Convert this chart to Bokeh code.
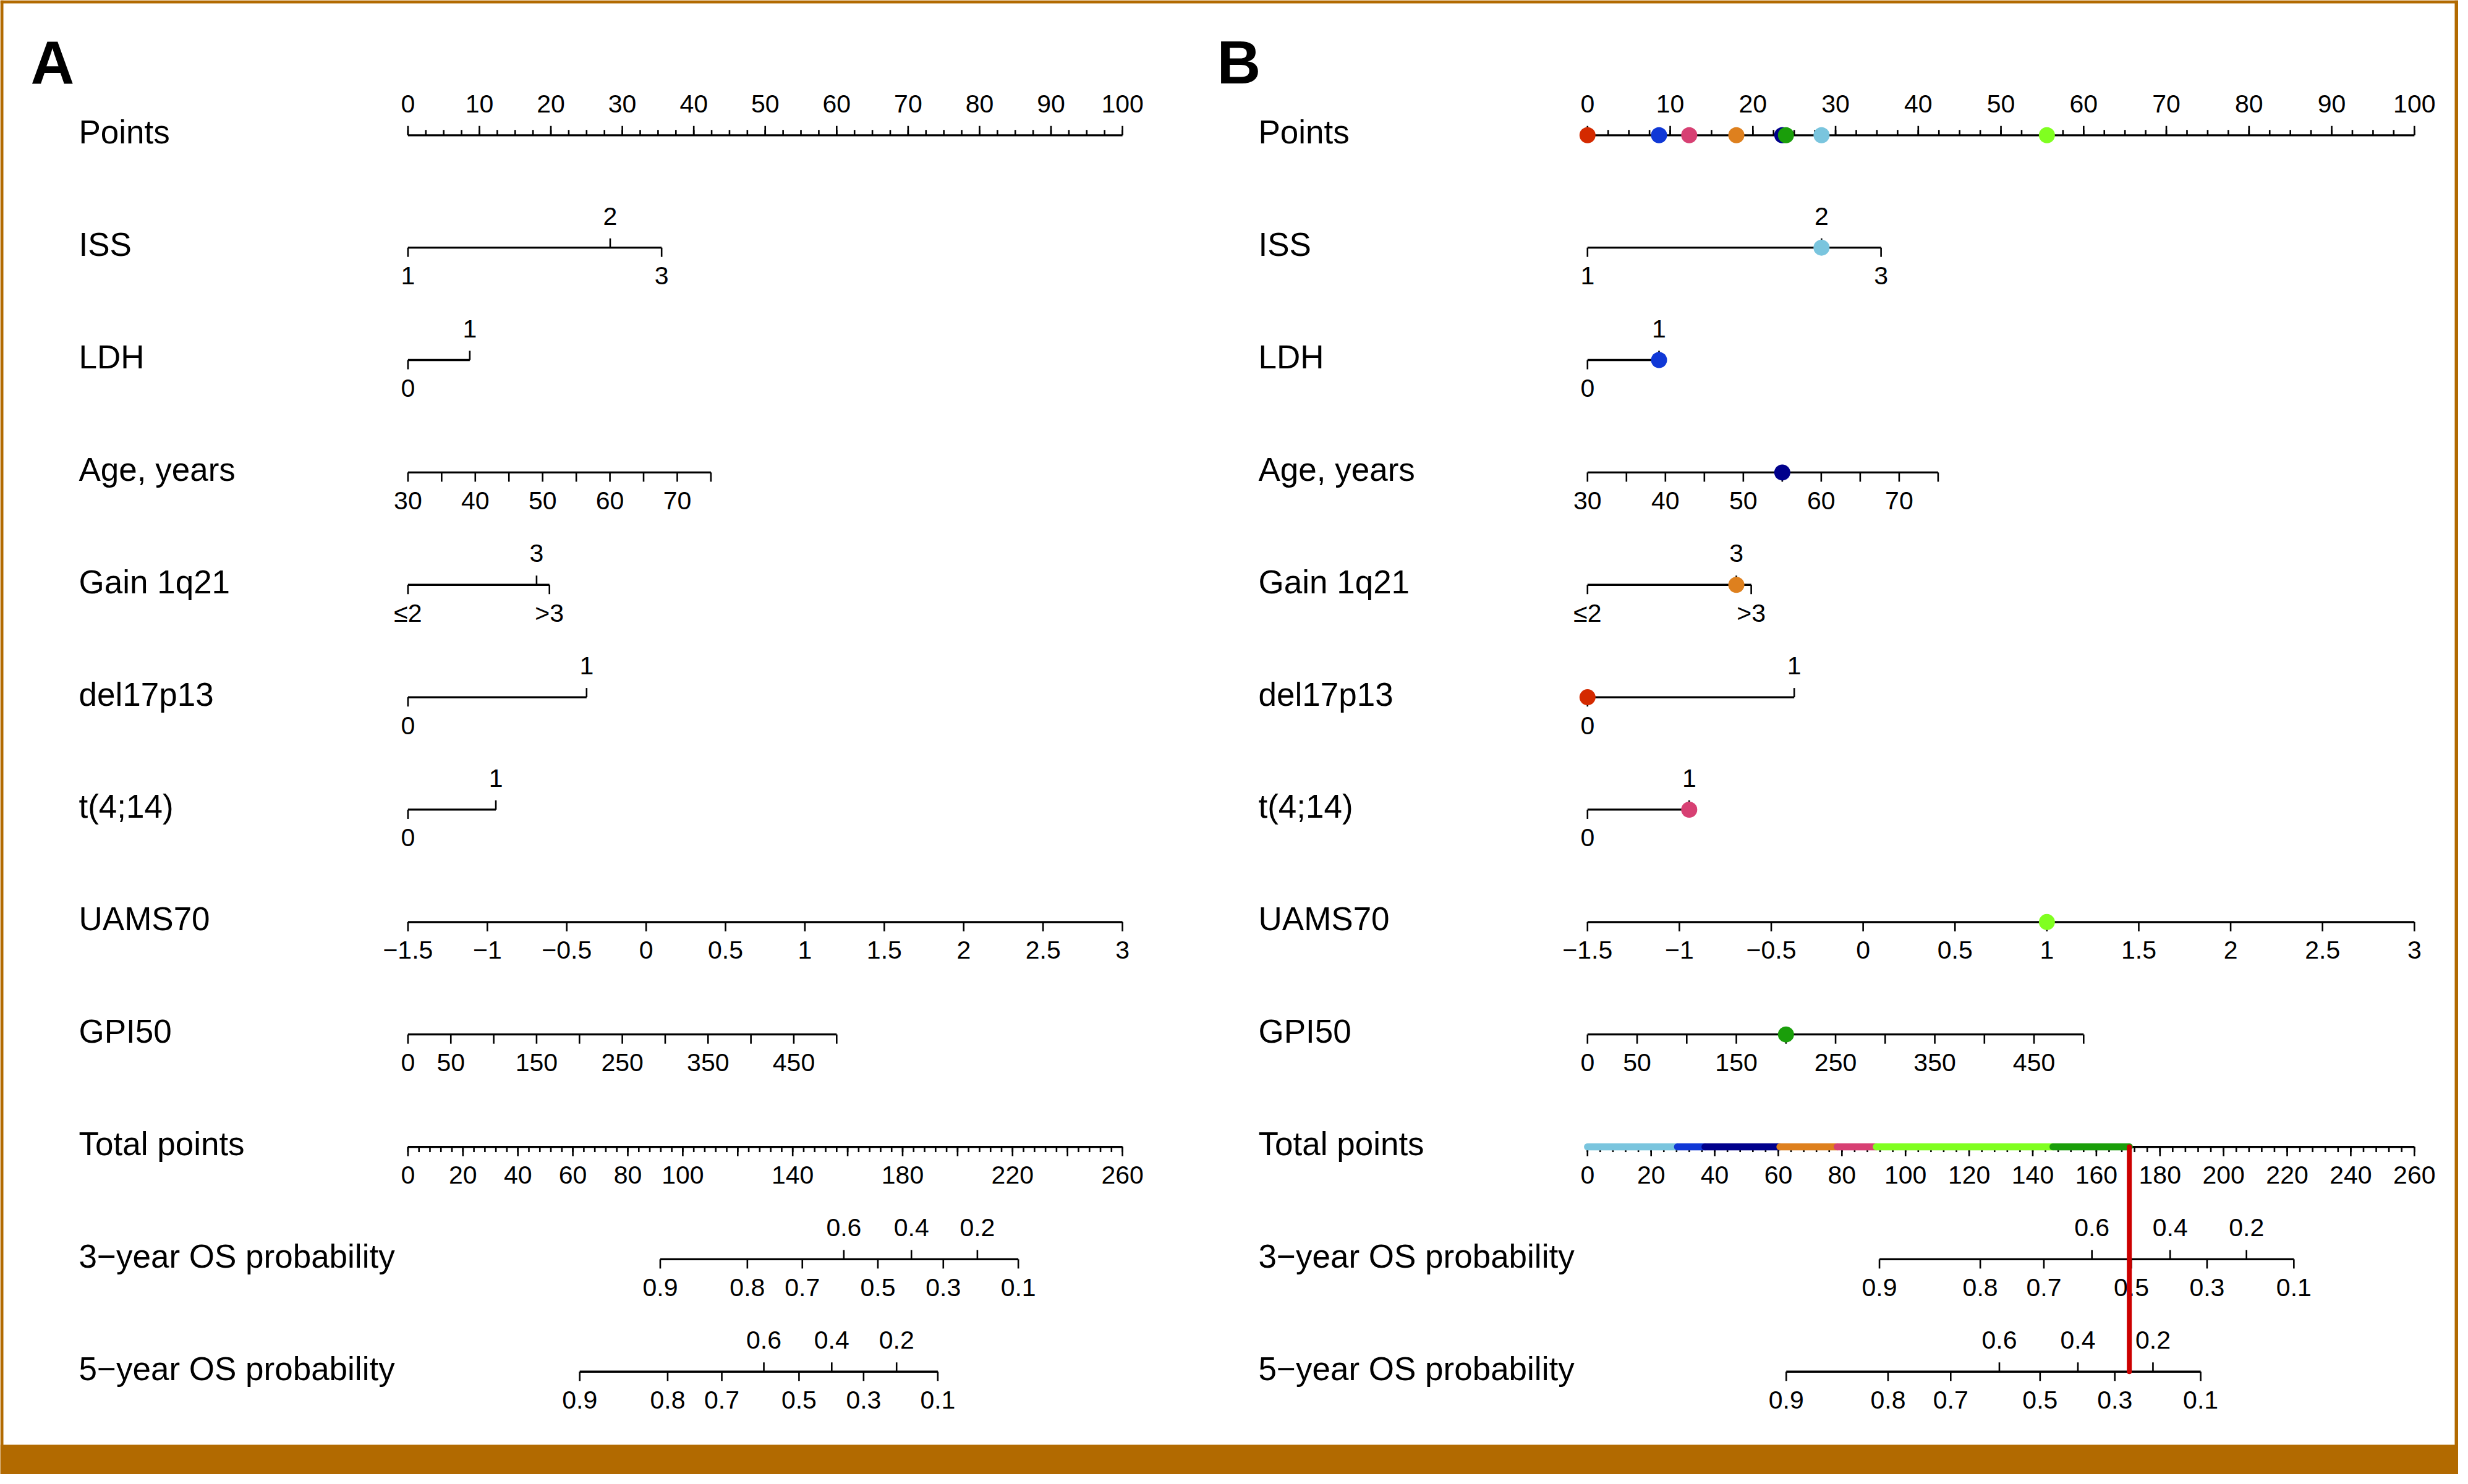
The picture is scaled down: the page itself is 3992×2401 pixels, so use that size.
import numpy as np
from bokeh.plotting import figure
from bokeh.models import Range1d
from bokeh.core.properties import value
from bokeh.embed import file_html
from bokeh.resources import INLINE

# ---------------- data ----------------
row_names = ["Points", "ISS", "LDH", "Age, years", "Gain 1q21", "del17p13", "t(4;14)",
             "UAMS70", "GPI50", "Total points", "3\u2212year OS probability", "5\u2212year OS probability"]

points_major = list(range(0, 101, 10))
points_minor = [i * 2.5 for i in range(41)]

iss_levels = ["1", "2", "3"]
iss_points = [0.0, 28.3, 35.5]
iss_side = ["down", "up", "down"]

ldh_levels = ["0", "1"]
ldh_points = [0.0, 8.65]
ldh_side = ["down", "up"]

age_ticks = list(range(30, 80, 5))
age_labels = [30, 40, 50, 60, 70]
age_points_at_75 = 42.4          # points for age 75 (age 30 = 0)

gain_levels = ["\u22642", "3", ">3"]
gain_points = [0.0, 18.0, 19.8]
gain_side = ["down", "up", "down"]

del17_levels = ["0", "1"]
del17_points = [0.0, 25.0]
del17_side = ["down", "up"]

t414_levels = ["0", "1"]
t414_points = [0.0, 12.3]
t414_side = ["down", "up"]

uams_ticks = [-1.5, -1, -0.5, 0, 0.5, 1, 1.5, 2, 2.5, 3]
uams_labels = ["\u22121.5", "\u22121", "\u22120.5", "0", "0.5", "1", "1.5", "2", "2.5", "3"]
uams_points_range = [0.0, 100.0]   # points for -1.5 and 3

gpi_ticks = list(range(0, 501, 50))
gpi_labels = [0, 50, 150, 250, 350, 450]
gpi_points_at_500 = 60.0

total_major = list(range(0, 261, 20))
total_minor = list(range(0, 261, 4))
total_labels_A = [0, 20, 40, 60, 80, 100, 140, 180, 220, 260]
total_labels_B = list(range(0, 261, 20))

os_probs = [0.9, 0.8, 0.7, 0.6, 0.5, 0.4, 0.3, 0.2, 0.1]
os_side = ["down", "down", "down", "up", "down", "up", "down", "up", "down"]
os3_total = [91.8, 123.5, 143.5, 158.6, 171.0, 183.2, 194.8, 207.2, 222.1]
os5_total = [62.5, 94.5, 114.2, 129.5, 142.3, 154.2, 165.8, 177.8, 192.8]

# patient shown in panel B
pt_iss, pt_ldh, pt_age, pt_gain = "2", "1", 55, "3"
pt_del17, pt_t414, pt_uams, pt_gpi = "0", "1", 1.0, 200
var_colors = {"ISS": "#7AC5DE", "LDH": "#1038D6", "Age": "#00008C", "Gain": "#DE801E",
              "del17": "#D42A00", "t414": "#D74073", "UAMS": "#80FF20", "GPI": "#1A9E0A"}

# ---------------- layout ----------------
W, H = 3976, 2385
ROW0, ROWSTEP = 218.3, 181.86
FONT = value("Liberation Sans")
TICK_FS, LABEL_FS = "41px", "53px"
AXW, TW = 3.3, 2.6
MAJ, MIN = 15, 8.5
BROWN = "#B26A00"

p = figure(width=W, height=H, x_range=Range1d(0, W), y_range=Range1d(H, 0),
           x_axis_type=None, y_axis_type=None, output_backend="svg",
           toolbar_location=None, min_border=0, outline_line_color=None,
           background_fill_color="white", border_fill_color="white")

# panel scales (points units and total-points units)
panels = {"A": (659.4, 11.557), "B": (2567.3, 13.375)}
for k, (x0, s) in panels.items():
    p.extra_x_ranges[k] = Range1d(-x0 / s, (W - x0) / s)
    p.extra_x_ranges[k + "t"] = Range1d(-x0 / s * 2.6, (W - x0) / s * 2.6)


def ry(i):
    return ROW0 + ROWSTEP * i


def scale(rng, row, ticks, sides, labels, lab_pos, lab_sides, minor=None, minor_side="up", major_len=MAJ):
    y = ry(row)
    lo, hi = min(ticks + (minor or [])), max(ticks + (minor or []))
    p.segment(x0=[lo], y0=[y], x1=[hi], y1=[y], x_range_name=rng,
              line_width=AXW, line_color="black")
    if minor:
        d = -MIN if minor_side == "up" else MIN
        p.segment(x0=minor, y0=[y] * len(minor), x1=minor, y1=[y + d] * len(minor),
                  x_range_name=rng, line_width=TW, line_color="black")
    y1 = [y - major_len if s == "up" else y + major_len for s in sides]
    p.segment(x0=ticks, y0=[y] * len(ticks), x1=ticks, y1=y1, x_range_name=rng,
              line_width=TW, line_color="black")
    ly = [y - 51.0 if s == "up" else y + 45.5 for s in lab_sides]
    p.text(x=lab_pos, y=ly, text=labels, x_range_name=rng, text_font=FONT,
           text_font_size=TICK_FS, text_align="center", text_baseline="middle",
           text_color="black")


def age_pts(a):
    return (a - 30) / 45 * age_points_at_75


def uams_pts(u):
    return (u + 1.5) / 4.5 * (uams_points_range[1] - uams_points_range[0])


def gpi_pts(g):
    return g / 500 * gpi_points_at_500


def draw_panel(rng, label_x, letter, letter_x, total_labels):
    # panel letter
    p.text(x=[letter_x], y=[100], text=[letter], text_font=FONT, text_font_size="98px",
           text_font_style="bold", text_baseline="middle", text_color="black")
    # row labels
    p.text(x=[label_x] * len(row_names), y=[ry(i) - 5 for i in range(len(row_names))],
           text=row_names, text_font=FONT, text_font_size=LABEL_FS,
           text_baseline="middle", text_color="black")
    # Points
    scale(rng, 0, points_major, ["up"] * len(points_major), [str(v) for v in points_major],
          points_major, ["up"] * len(points_major), minor=points_minor, minor_side="up")
    # categorical rows
    for row, lev, pts, side in [(1, iss_levels, iss_points, iss_side),
                                (2, ldh_levels, ldh_points, ldh_side),
                                (4, gain_levels, gain_points, gain_side),
                                (5, del17_levels, del17_points, del17_side),
                                (6, t414_levels, t414_points, t414_side)]:
        scale(rng, row, pts, side, lev, pts, side)
    # Age
    a_t = [age_pts(a) for a in age_ticks]
    scale(rng, 3, a_t, ["down"] * len(a_t), [str(a) for a in age_labels],
          [age_pts(a) for a in age_labels], ["down"] * len(age_labels))
    # UAMS70
    u_t = [uams_pts(u) for u in uams_ticks]
    scale(rng, 7, u_t, ["down"] * len(u_t), uams_labels, u_t, ["down"] * len(u_t))
    # GPI50
    g_t = [gpi_pts(g) for g in gpi_ticks]
    scale(rng, 8, g_t, ["down"] * len(g_t), [str(g) for g in gpi_labels],
          [gpi_pts(g) for g in gpi_labels], ["down"] * len(gpi_labels))
    # Total points
    scale(rng + "t", 9, total_major, ["down"] * len(total_major), [str(v) for v in total_labels],
          total_labels, ["down"] * len(total_labels), minor=total_minor, minor_side="down")
    # OS probabilities
    labs = [str(v) for v in os_probs]
    scale(rng + "t", 10, os3_total, os_side, labs, os3_total, os_side)
    scale(rng + "t", 11, os5_total, os_side, labs, os5_total, os_side)


draw_panel("A", 127, "A", 49, total_labels_A)
draw_panel("B", 2035, "B", 1968, total_labels_B)

# ---------------- panel B patient ----------------
pt_vals = [
    ("ISS", 1, iss_points[iss_levels.index(pt_iss)]),
    ("LDH", 2, ldh_points[ldh_levels.index(pt_ldh)]),
    ("Age", 3, age_pts(pt_age)),
    ("Gain", 4, gain_points[gain_levels.index(pt_gain)]),
    ("del17", 5, del17_points[del17_levels.index(pt_del17)]),
    ("t414", 6, t414_points[t414_levels.index(pt_t414)]),
    ("UAMS", 7, uams_pts(pt_uams)),
    ("GPI", 8, gpi_pts(pt_gpi)),
]
for name, row, pts in pt_vals:
    p.scatter(x=[pts], y=[ry(row)], x_range_name="B", size=26, marker="circle",
              fill_color=var_colors[name], line_color=None)
for name, row, pts in pt_vals:
    p.scatter(x=[pts], y=[ry(0)], x_range_name="B", size=26, marker="circle",
              fill_color=var_colors[name], line_color=None)

# stacked contribution bar on total points
cum = 0.0
for name, row, pts in pt_vals:
    if pts > 0:
        p.segment(x0=[cum], y0=[ry(9)], x1=[cum + pts], y1=[ry(9)], x_range_name="Bt",
                  line_width=11.4, line_color=var_colors[name], line_cap="round")
    cum += pts

p.segment(x0=[cum], y0=[ry(9)], x1=[cum], y1=[ry(11)], x_range_name="Bt",
          line_width=8, line_color="#CC0000", line_cap="round")

# ---------------- frame ----------------
p.quad(left=[0, 0, 0, W - 6], right=[W, 5, W, W], top=[0, 0, 2337, 0], bottom=[5, H, H, H],
       fill_color=BROWN, line_color=None)

open("out.html", "w").write(file_html(p, INLINE))
